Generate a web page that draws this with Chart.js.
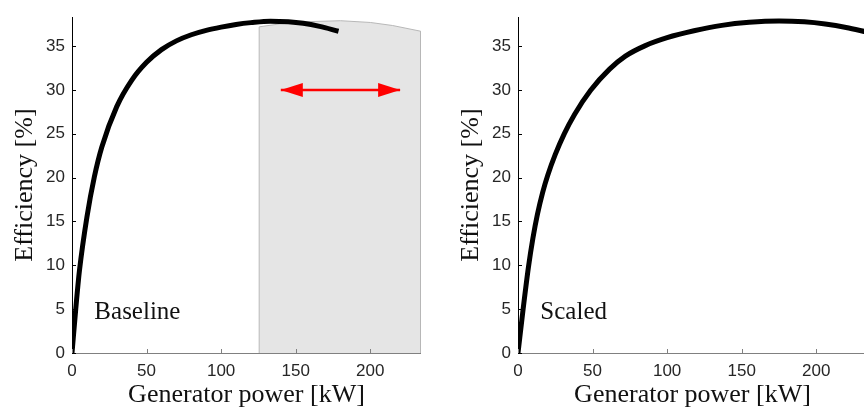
<!DOCTYPE html>
<html>
<head>
<meta charset="utf-8">
<script src="https://cdn.jsdelivr.net/npm/chart.js@4.4.1/dist/chart.umd.min.js"></script>
<style>
  html, body { margin: 0; padding: 0; background: #fff; overflow: hidden; width: 864px; height: 414px; }
  canvas { position: absolute; top: 0; }
  #left { left: 0; }
  #right { left: 446px; }
</style>
</head>
<body>
<canvas id="left" width="421" height="414"></canvas>
<canvas id="right" width="421" height="414"></canvas>
<script>
// efficiency of the baseline generator
const baseX = [0, 2.5, 5, 10, 15, 20, 30, 40, 50, 60, 70, 80, 90, 100, 110, 120, 133, 145, 155, 166, 178.7];
const baseY = [0, 5.0, 9.4, 15.5, 20.1, 23.5, 28.1, 31.1, 33.15, 34.6, 35.6, 36.3, 36.8, 37.17, 37.47, 37.68, 37.85, 37.78, 37.6, 37.25, 36.7];

// efficiency of the scaled generator
const scaledX = [0, 3.5, 7, 10, 13, 16.5, 20, 25, 31, 38, 48.7, 61.4, 72, 85, 100, 118, 136.7, 155, 175, 192, 206, 220, 234];
const scaledY = [0, 5.1, 9.8, 13.1, 15.8, 18.3, 20.3, 22.65, 25.0, 27.24, 29.97, 32.38, 33.86, 35.03, 35.96, 36.75, 37.37, 37.72, 37.87, 37.77, 37.52, 37.13, 36.6];

// shaded band of extra operating range
const bandX = [125.5, 125.5, 140, 160, 180, 200, 215, 233.8, 233.8];
const bandY = [0, 37.2, 37.55, 37.8, 37.9, 37.7, 37.35, 36.7, 0];

// double arrow inside the band
const arrowX = [140, 220];
const arrowY = [30, 30];

const xTicks = [0, 50, 100, 150, 200];
const yTicks = [0, 5, 10, 15, 20, 25, 30, 35];
const xMax = 234;
const yMax = 38.3;

const serif = '"Liberation Serif", "Times New Roman", serif';
const sans = '"Liberation Sans", Arial, sans-serif';

function toPoints(xs, ys) {
    return xs.map((x, i) => ({ x: x, y: ys[i] }));
}

// inward tick marks, arrow heads and the panel caption
const extras = {
    id: 'extras',
    afterDraw(chart, args, opts) {
        const { ctx, chartArea } = chart;
        const x = chart.scales.x;
        const y = chart.scales.y;
        ctx.save();
        ctx.lineWidth = 1;
        ctx.strokeStyle = '#808080';
        x.ticks.forEach(t => {
            const px = Math.round(x.getPixelForValue(t.value)) + 0.5;
            ctx.beginPath();
            ctx.moveTo(px, chartArea.bottom);
            ctx.lineTo(px, chartArea.bottom - 4);
            ctx.stroke();
        });
        ctx.strokeStyle = '#000';
        y.ticks.forEach(t => {
            const py = Math.round(y.getPixelForValue(t.value)) + 0.5;
            ctx.beginPath();
            ctx.moveTo(chartArea.left, py);
            ctx.lineTo(chartArea.left + 4, py);
            ctx.stroke();
        });

        if (opts.arrow) {
            const py = y.getPixelForValue(arrowY[0]);
            const x1 = x.getPixelForValue(arrowX[0]);
            const x2 = x.getPixelForValue(arrowX[1]);
            ctx.fillStyle = '#ff0000';
            ctx.beginPath();
            ctx.moveTo(x1, py);
            ctx.lineTo(x1 + 22, py - 7);
            ctx.lineTo(x1 + 22, py + 7);
            ctx.closePath();
            ctx.fill();
            ctx.beginPath();
            ctx.moveTo(x2, py);
            ctx.lineTo(x2 - 22, py - 7);
            ctx.lineTo(x2 - 22, py + 7);
            ctx.closePath();
            ctx.fill();
        }

        ctx.font = '25px ' + serif;
        ctx.fillStyle = '#111';
        ctx.textAlign = 'left';
        ctx.textBaseline = 'alphabetic';
        ctx.fillText(opts.caption, x.getPixelForValue(15), y.getPixelForValue(3.9));
        ctx.restore();
    }
};

function makeChart(id, lineX, lineY, caption, withBand) {
    const datasets = [{
        data: toPoints(lineX, lineY),
        borderColor: '#000',
        borderWidth: 5,
        borderCapStyle: 'butt',
        borderJoinStyle: 'round',
        pointRadius: 0,
        cubicInterpolationMode: 'monotone',
        fill: false,
        order: 0
    }];
    if (withBand) {
        datasets.push({
            data: toPoints(arrowX, arrowY),
            borderColor: '#ff0000',
            borderWidth: 2.5,
            pointRadius: 0,
            fill: false,
            order: 1
        });
        datasets.push({
            data: toPoints(bandX, bandY),
            borderColor: '#b8b8b8',
            backgroundColor: '#e5e5e5',
            borderWidth: 1,
            pointRadius: 0,
            tension: 0,
            fill: 'origin',
            order: 2
        });
    }

    return new Chart(document.getElementById(id), {
        type: 'line',
        data: { datasets: datasets },
        plugins: [extras],
        options: {
            responsive: false,
            animation: false,
            devicePixelRatio: 1,
            layout: { padding: { top: 8, right: 0, left: 0, bottom: 0 } },
            plugins: {
                legend: { display: false },
                tooltip: { enabled: false },
                extras: { caption: caption, arrow: withBand }
            },
            scales: {
                x: {
                    type: 'linear',
                    min: 0,
                    max: xMax,
                    afterBuildTicks: s => { s.ticks = xTicks.map(v => ({ value: v })); },
                    afterFit: s => { s.height = 61; },
                    grid: { display: false, drawTicks: false },
                    border: { display: true, color: '#808080', width: 1 },
                    ticks: { padding: 8, color: '#262626', font: { family: sans, size: 17 } },
                    title: {
                        display: true,
                        text: 'Generator power [kW]',
                        color: '#111',
                        font: { family: serif, size: 26 },
                        padding: { top: 0, bottom: 3 }
                    }
                },
                y: {
                    type: 'linear',
                    min: 0,
                    max: yMax,
                    afterBuildTicks: s => { s.ticks = yTicks.map(v => ({ value: v })); },
                    afterFit: s => { s.width = 72; },
                    grid: { display: false, drawTicks: false },
                    border: { display: true, color: '#000', width: 1 },
                    ticks: { padding: 7, color: '#262626', font: { family: sans, size: 17 } },
                    title: {
                        display: true,
                        text: 'Efficiency [%]',
                        color: '#111',
                        font: { family: serif, size: 26 },
                        padding: { top: 10, bottom: 0 }
                    }
                }
            }
        }
    });
}

makeChart('left', baseX, baseY, 'Baseline', true);
makeChart('right', scaledX, scaledY, 'Scaled', false);
</script>
</body>
</html>
